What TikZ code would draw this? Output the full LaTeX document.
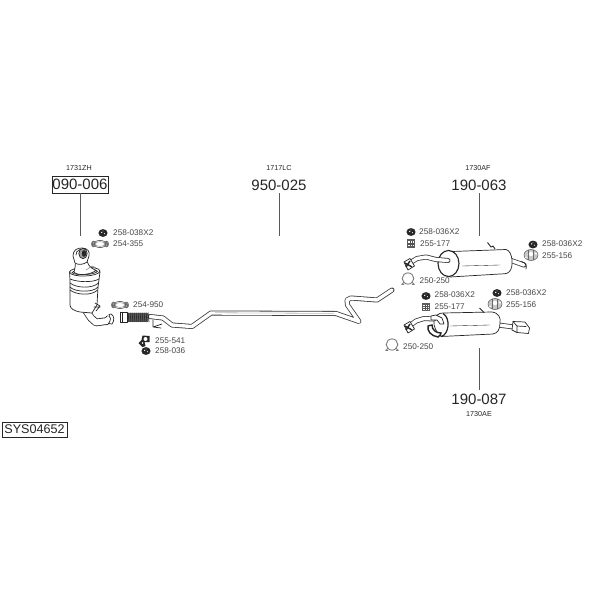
\documentclass[tikz,border=0pt]{standalone}
\usepackage{fontspec}
\setmainfont{Liberation Sans}
\definecolor{ink}{gray}{0.15}
\definecolor{leader}{gray}{0.35}
\tikzset{
  big/.style={font=\fontsize{15}{15}\selectfont,text=ink,inner sep=0pt,anchor=center},
  ref/.style={font=\fontsize{7.2}{7.2}\selectfont,text=ink,inner sep=0pt,anchor=center},
  part/.style={font=\fontsize{8.2}{8.2}\selectfont,text=ink!85,inner sep=0pt,anchor=west},
  leaderline/.style={draw=leader,line width=0.9pt},
  outline/.style={draw=ink,line width=0.7pt,line join=round,line cap=round},
  body/.style={outline,fill=white},
  tube/.style={draw=ink!90,line width=5pt,line join=round,line cap=round},
  tubein/.style={draw=white,line width=3.4pt,line join=round,line cap=round},
  nut/.pic={\fill[ink] (0,0) circle (4.6 and 3.9);\fill[white] (-1.3,-0.6) circle (0.7);\fill[white] (1.4,0.7) circle (0.6);\fill[gray] (0,-2) circle (0.6);},
  gasket/.pic={\fill[ink!70] (-6.5,0) circle (2.4 and 3.2);\fill[ink!70] (6.5,0) circle (2.4 and 3.2);\fill[white] (-6.8,-1) circle (0.6);\fill[white] (6.2,1) circle (0.6);\fill[white] (-6,1.4) circle (0.5);\fill[white] (7,-1.2) circle (0.5);\fill[white] (0,0) circle (5 and 2.4);\draw[ink!70,line width=0.7pt] (0,0) circle (6 and 3.6);\draw[gray,line width=0.4pt] (0,0) circle (4.6 and 2.4);},
  block/.pic={\fill[ink!75] (-4,-4.2) rectangle (4,4.2);\fill[white] (-2.7,-2.2) rectangle (2.7,2.6);\draw[ink!80,line width=0.7pt] (-2.7,1) -- (2.7,1) (-2.7,-0.4) -- (2.7,-0.4) (-1,-2.2) -- (-1,2.6) (1,-2.2) -- (1,2.6);},
  ringclamp/.pic={\draw[ink!60,line width=0.9pt] (0,-0.5) circle (5.8 and 5.6);\draw[ink!60,line width=0.8pt] (-6.5,5.5) -- (-3.5,3) (6.5,5.5) -- (3.5,3) (-6.5,5.5) -- (-4,5.5) (6.5,5.5) -- (4,5.5);},
  bracket/.pic={\fill[ink!25] (0,0) circle (7 and 5.5);\draw[ink!70,line width=0.6pt] (0,0) circle (7 and 5.5);\draw[ink!70,line width=0.7pt] (-3,-5) -- (-3,5) (2.5,-5) -- (2.5,5);\fill[white] (0,-1) circle (2.2);\fill[white] (5,-1.5) circle (1.2);\fill[white] (-5,2.5) circle (0.9);},
  hanger/.pic={\fill[ink] (-6,2) -- (-2,6) -- (1,5) -- (0,1) -- (5,1) -- (5,-5) -- (-2,-5.5) -- (-3,-1) -- cycle;\fill[white] (1,-2) circle (2);\fill[white] (-2,2) circle (0.8);},
}
\begin{document}
\begin{tikzpicture}[x=1pt,y=-1pt]
\useasboundingbox (0,0) rectangle (600,600);
\fill[white] (0,0) rectangle (600,600);

% headings and numbers
\node[ref] (r1) at (79,168) {1731ZH};
\node[big,draw=ink,line width=0.5pt,minimum width=56pt,minimum height=17pt] (n1) at (80,184.5) {090-006};
\coordinate (e1) at (80,236);
\draw[leaderline] (n1.south) -- (e1);

\node[ref] (r2) at (279,168) {1717LC};
\node[big] (n2) at (279,185) {950-025};
\coordinate (e2) at (279,236);
\draw[leaderline] (279,193) -- (e2);

\node[ref] (r3) at (478,168) {1730AF};
\node[big] (n3) at (479,185) {190-063};
\coordinate (e3) at (479,236);
\draw[leaderline] (479,193) -- (e3);

\node[big] (n4) at (479,399) {190-087};
\node[ref] (r4) at (479,414) {1730AE};
\coordinate (e4) at (479,348);
\draw[leaderline] (479,390) -- (e4);

\node[draw=ink,line width=0.5pt,font=\fontsize{12.6}{12.6}\selectfont,text=ink,inner sep=0pt,minimum width=65pt,minimum height=15pt] (sys) at (34.5,429.5) {SYS04652};

% part labels
\node[part] (p1) at (113,233) {258-038X2};
\node[part] (p2) at (113,244) {254-355};
\node[part] (p3) at (133,305) {254-950};
\node[part] (p4) at (155,341) {255-541};
\node[part] (p5) at (155,351) {258-036};
\node[part] (p6) at (419,232) {258-036X2};
\node[part] (p7) at (420,243.5) {255-177};
\node[part] (p8) at (419.5,281) {250-250};
\node[part] (p9) at (542,244) {258-036X2};
\node[part] (p10) at (542,256) {255-156};
\node[part] (p11) at (434.5,295) {258-036X2};
\node[part] (p12) at (434.5,307) {255-177};
\node[part] (p13) at (403,347) {250-250};
\node[part] (p14) at (506,293) {258-036X2};
\node[part] (p15) at (506,305) {255-156};

% small part icons
\pic at (103,233) {nut};
\pic at (100,244) {gasket};
\pic at (120,305) {gasket};
\pic at (144.5,341) {hanger};
\pic at (146,351) {nut};
\pic at (411,232) {nut};
\pic at (411,243.5) {block};
\pic at (408,279) {ringclamp};
\pic at (533,244.5) {nut};
\pic at (531,255) {bracket};
\pic at (426,296) {nut};
\pic at (426,307) {block};
\pic at (392,345) {ringclamp};
\pic at (497,293) {nut};
\pic at (495,304) {bracket};

% long centre pipe
\def\centrepipe{(150,316.5) -- (163,318) -- (172,325) -- (192,326.5) -- (211,313) -- (336,313.5) -- (359,321.5) -- (347.5,305) -- (347,300) -- (351,298) -- (377,300) -- (392,290)}
\draw[tube] \centrepipe;
\draw[tubein] \centrepipe;
\draw[ink,line width=0.3pt,opacity=0.6] (215,312.8) -- (334,313.3);
% flexible section
\fill[ink!75] (127,312.5) rectangle (148,322);
\foreach \x in {128,130,...,148} \draw[ink,line width=0.7pt] (\x,312.5) -- (\x+1,322);
\draw[outline,fill=white] (120.5,312) rectangle (127,322.5);
\draw[ink,line width=1.4pt] (122.5,312) -- (122.5,322.5);
\draw[outline] (153,320) -- (153,327) -- (161,328) (153,327) -- (162,324);

% catalyst outlet pipe
\def\catout{(85,309) -- (91,318) -- (96,322.5) -- (107,321) -- (110,318)}
\draw[draw=ink,line width=7.6pt,line join=round] \catout;
\draw[draw=white,line width=6pt,line join=round] \catout;
\draw[body] (111,314) .. controls (114.5,315.5) and (114.5,321) .. (112,324) -- (108.5,323.5) .. controls (111,320.5) and (111,317) .. (109,314.5) -- cycle;
% catalyst body
\draw[body] (70,287) -- (70,305) .. controls (70,309) and (75,311) .. (80,312) -- (92,313) -- (97,305) -- (98,287) -- cycle;
\draw[body] (69.5,272) .. controls (70,277) and (70,282) .. (70,287) .. controls (74,292) and (93,293) .. (98,287) -- (100,272) -- cycle;
\draw[outline] (70,283) .. controls (76,288) and (92,289) .. (98.5,283);
\draw[outline] (70,279) .. controls (77,282) and (92,283) .. (99,279);
\draw[outline] (70,290) .. controls (76,295) and (92,296) .. (97.5,290);
\draw[body] (69.5,272) .. controls (70,267) and (99,265) .. (100,271) .. controls (99,277) and (71,278) .. (69.5,272) -- cycle;
\draw[outline] (72,272.5) .. controls (75,269.5) and (95,267.5) .. (97.5,271.5) .. controls (94,275) and (75,276) .. (72,272.5);
\draw[body] (74,272) .. controls (75,268) and (76,264) .. (75,260) -- (87,258) .. controls (86,263) and (90,268) .. (96,270.5) .. controls (90,275) and (77,276) .. (74,272) -- cycle;
\draw[body] (73,256) .. controls (73,250) and (77,248) .. (82,248) .. controls (88,248) and (90,252) .. (89,256) -- (87,262) .. controls (83,265) and (78,265) .. (75,263) -- cycle;
\draw[outline] (76,255) .. controls (76,253) and (77,250) .. (80,249.5);
\draw[outline,fill=ink!45] (83,253.5) ellipse (4.2 and 5.2);
\fill[ink] (84,253.5) ellipse (2.2 and 3.4);
\draw[outline] (95,303) -- (100,306) -- (96,311) (94,307) -- (100,307);
\draw[ink!60,line width=0.5pt] (86,270) -- (92,266) -- (96,268);

% upper rear silencer
\draw[tube] (504,258) -- (524,265);
\draw[tubein] (504,258) -- (524,265);
\draw[outline] (521.5,261.5) .. controls (526,263) and (527,266) .. (526,269);
\draw[body] (452,251.5) -- (506,249.5) .. controls (513,251) and (514,268) .. (509,272) .. controls (507,274) and (503,274) .. (500,274) -- (450,277) .. controls (444,275) and (440,268) .. (438,262) .. controls (438,255) and (445,250) .. (452,251.5) -- cycle;
\draw[ink,line width=1.1pt,fill=white] (448.5,263.5) ellipse (10.5 and 13);
\draw[ink,line width=0.35pt] (462,266) -- (500,265);
\def\uppin{(408,264) -- (417,258.5) -- (426,257) -- (436,259.5) -- (448,260.5)}
\draw[tube] \uppin;
\draw[tubein] \uppin;
\draw[body] (404,262) -- (410,258.5) -- (414.5,266) -- (408,270) -- cycle;
\draw[ink,line width=1.4pt] (405,263) -- (412,267) (406,267) -- (410,261);
\draw[ink,line width=0.9pt,line join=round] (487.5,242.5) -- (491,247) -- (493,246) -- (495,249);

% lower rear silencer
\draw[tube] (498,325) -- (514,327);
\draw[tubein] (498,325) -- (514,327);
\draw[body] (513,321.5) -- (525,322) -- (529.5,328) -- (528.5,333.5) -- (517,332.5) -- (512,330) -- cycle;
\draw[outline] (513,321.5) -- (517,326) -- (517,332.5) (517,326) -- (526,326.5);
\draw[body] (443,313) -- (492,312) .. controls (499,313) and (501,318) .. (500,323) .. controls (500,329) and (498,333) .. (493,334) -- (441,336.5) .. controls (437,333) and (433,327) .. (434,320) .. controls (436,315) and (439,313) .. (443,313) -- cycle;
\draw[ink,line width=1.2pt] (441,336.5) .. controls (449,335) and (451,318) .. (443,313.5);
\draw[ink,line width=0.35pt] (450,326) -- (490,325);
\draw[ink,line width=1.4pt,fill=white] (428,326) .. controls (427,331) and (431,336) .. (438,337) .. controls (440,336) and (441,334) .. (441,333) .. controls (436,333) and (432,330) .. (432,325) -- cycle;
\def\lowin{(408,327) -- (416,321) -- (424,318.5) -- (434,319)}
\draw[tube] \lowin;
\draw[tubein] \lowin;
\draw[body] (431,316) -- (436,315) -- (442,318) -- (444,324) -- (440,324) -- (437,320) -- (431,320) -- cycle;
\draw[body] (404,325) -- (410,321.5) -- (414.5,329) -- (408,333) -- cycle;
\draw[ink,line width=1.4pt] (405,326) -- (412,330) (406,330) -- (410,324);
\draw[ink,line width=0.9pt] (479.5,308) -- (484,312.5);
\end{tikzpicture}
\end{document}
